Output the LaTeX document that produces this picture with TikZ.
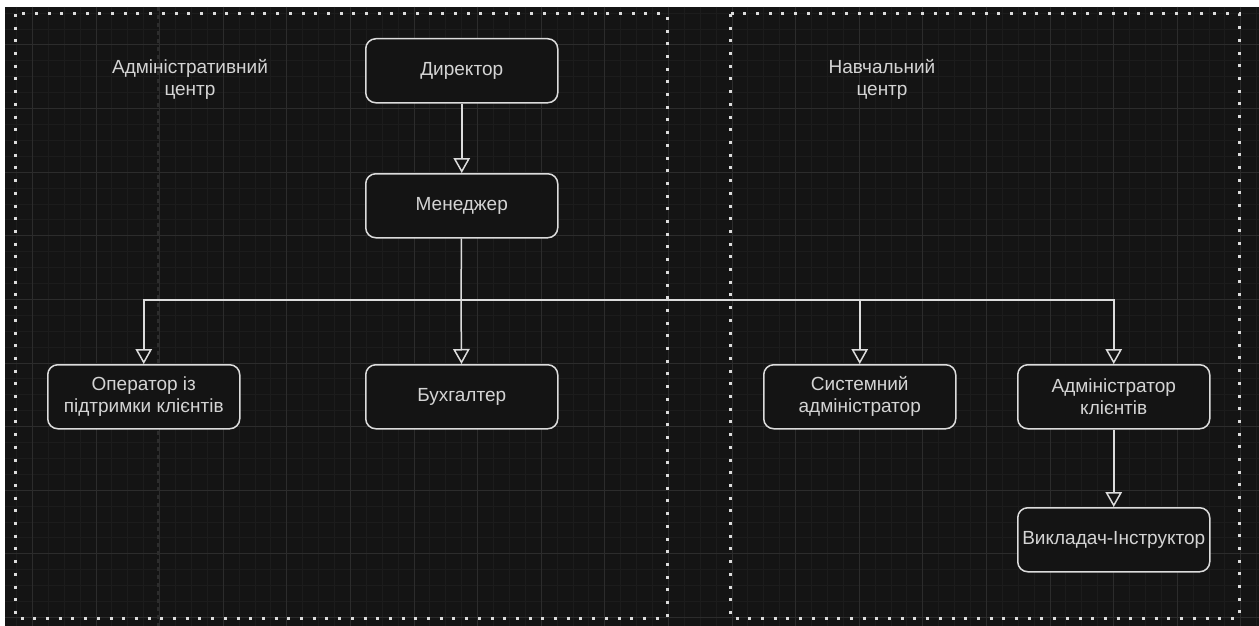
\documentclass[tikz,border=0pt]{standalone}
\usepackage{fontspec}
\setmainfont{Liberation Sans}
\usetikzlibrary{arrows.meta}
\definecolor{bg}{HTML}{141414}
\definecolor{gmin}{HTML}{1C1C1C}
\definecolor{gmaj}{HTML}{2C2C2C}
\definecolor{fg}{HTML}{DCDCDC}
\definecolor{txt}{HTML}{D4D4D4}
\begin{document}
\begin{tikzpicture}[x=1pt,y=-1pt,
  box/.style={draw=fg, line width=1.5pt, fill=bg, rounded corners=10pt,
    minimum width=192pt, minimum height=64pt, inner sep=0pt, align=center,
    text=txt, font=\fontsize{19}{22}\selectfont, anchor=north west},
  conn/.style={draw=fg, line width=1.5pt,
    -{Triangle[open, width=16.5pt, length=15pt, fill=bg]}},
  plain/.style={draw=fg, line width=1.5pt},
  lbl/.style={text=txt, align=center, font=\fontsize{19}{22}\selectfont},
  cont/.style={draw=fg, line width=3pt, dash pattern=on 3pt off 9.7pt}]
\useasboundingbox (0,0) rectangle (1259,626);
\fill[white] (0,0) rectangle (1259,626);
\fill[bg] (5,7) rectangle (1259,626);
\begin{scope}
\clip (5,7) rectangle (1259,626);
\foreach \i in {-6,...,73} {
  \draw[gmin, line width=1pt] ({96+15.9*\i},7) -- ({96+15.9*\i},626);
}
\foreach \j in {-3,...,37} {
  \draw[gmin, line width=1pt] (5,{45+15.9*\j}) -- (1259,{45+15.9*\j});
}
\foreach \i in {-1,...,18} {
  \draw[gmaj, line width=1pt] ({96+63.6*\i},7) -- ({96+63.6*\i},626);
}
\foreach \j in {-1,...,9} {
  \draw[gmaj, line width=1pt] (5,{45+63.6*\j}) -- (1259,{45+63.6*\j});
}
\draw[gmaj, line width=1.2pt, dash pattern=on 4pt off 4pt] (158,7) -- (158,626);
\end{scope}
% containers
\draw[cont] (15,14) rectangle (667,618);
\draw[cont] (730,14) rectangle (1239,618);
\node[lbl] (admc) at (190,79) {Адміністративний\\центр};
\node[lbl] (navc) at (882,79) {Навчальний\\центр};
% boxes
\node[box] (dir) at (365,38) {Директор};
\node[box] (men) at (365,173) {Менеджер};
\node[box] (op) at (47,364) {Оператор із\\підтримки клієнтів};
\node[box] (buh) at (365,364) {Бухгалтер};
\node[box] (sys) at (763,364) {Системний\\адміністратор};
\node[box] (adk) at (1017,364) {Адміністратор\\клієнтів};
\node[box] (vyk) at (1017,507) {Викладач-Інструктор};
% connectors
\coordinate (bus) at (461,300);
\draw[conn] (dir) -- (men);
\draw[plain] (men) -- (bus);
\draw[conn] (bus) -| (op.north);
\draw[conn] (bus) -- (buh);
\draw[conn] (bus) -| (sys.north);
\draw[conn] (bus) -| (adk.north);
\draw[conn] (adk) -- (vyk);
\end{tikzpicture}
\end{document}
